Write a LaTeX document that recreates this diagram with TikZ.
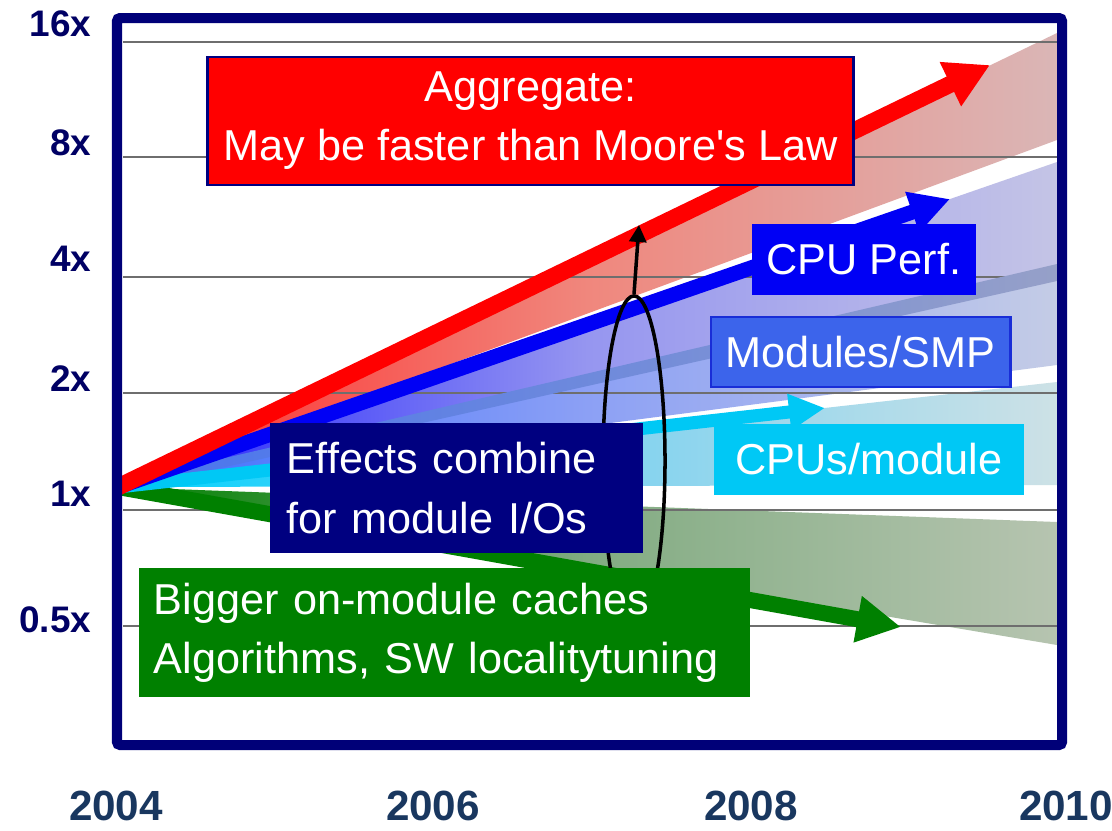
\documentclass[tikz,border=0pt]{standalone}
\usepackage{fontspec}
\setmainfont{Liberation Sans}
\usetikzlibrary{arrows.meta,shapes.geometric}
\pgfdeclarelayer{bg}
\pgfsetlayers{bg,main}

\definecolor{framenavy}{RGB}{0,0,120}
\definecolor{axisnavy}{RGB}{0,0,100}
\definecolor{yearblue}{RGB}{25,55,95}
\definecolor{gridgray}{RGB}{110,110,110}
\definecolor{aggred}{RGB}{255,0,0}
\definecolor{cpublue}{RGB}{0,0,245}
\definecolor{smpblue}{RGB}{60,100,235}
\definecolor{smpedge}{RGB}{25,45,215}
\definecolor{modcyan}{RGB}{0,200,245}
\definecolor{effnavy}{RGB}{0,0,128}
\definecolor{cachegreen}{RGB}{0,128,0}
% band colours, left end, middle and right end
\definecolor{aggL}{RGB}{255,40,40}
\definecolor{aggM}{RGB}{240,135,125}
\definecolor{aggR}{RGB}{218,182,182}
\definecolor{cpuL}{RGB}{30,30,255}
\definecolor{cpuM}{RGB}{150,150,240}
\definecolor{cpuR}{RGB}{196,196,230}
\definecolor{smpL}{RGB}{60,110,255}
\definecolor{smpM}{RGB}{140,160,245}
\definecolor{smpR}{RGB}{196,204,230}
\definecolor{modL}{RGB}{0,210,255}
\definecolor{modM}{RGB}{125,210,240}
\definecolor{modR}{RGB}{205,225,230}
\definecolor{cacheL}{RGB}{0,128,0}
\definecolor{cacheM}{RGB}{130,172,130}
\definecolor{cacheR}{RGB}{182,196,176}
\definecolor{smpshaftL}{RGB}{70,115,240}
\definecolor{smpshaftR}{RGB}{150,160,200}

\tikzset{
  txt/.style={font=\fontsize{12.3}{16.8}\selectfont, text=white, inner sep=0pt},
  aggbox/.style={txt, fill=aggred, draw=effnavy, line width=0.8pt, minimum width=6.45cm, minimum height=1.28cm, align=center},
  cpubox/.style={txt, fill=cpublue, minimum width=2.24cm, minimum height=0.71cm},
  smpbox/.style={txt, fill=smpblue, draw=smpedge, line width=0.8pt, minimum width=2.99cm, minimum height=0.70cm},
  modbox/.style={txt, fill=modcyan, minimum width=3.10cm, minimum height=0.71cm},
  effbox/.style={txt, fill=effnavy, minimum width=3.73cm, minimum height=1.30cm, text width=3.39cm, align=left},
  cachebox/.style={txt, fill=cachegreen, minimum width=6.11cm, minimum height=1.29cm, text width=5.81cm, align=left},
  axislbl/.style={anchor=east, inner sep=0pt, text=axisnavy, font=\fontsize{10.5}{12}\selectfont\bfseries},
  yearlbl/.style={inner sep=0pt, text=yearblue, font=\fontsize{12}{14}\selectfont\bfseries},
  band/.style n args={3}{left color=#1, right color=#3, middle color=#2},
  aggarrow/.style={aggred, line width=0.17cm, -{Triangle[length=0.44cm, width=0.46cm]}},
  cpuarrow/.style={cpublue, line width=0.15cm, -{Triangle[length=0.40cm, width=0.40cm]}},
  modarrow/.style={modcyan, line width=0.13cm, -{Triangle[length=0.36cm, width=0.34cm]}},
  cachearrow/.style={cachegreen, line width=0.16cm, -{Triangle[length=0.44cm, width=0.44cm]}},
  looparrow/.style={black, line width=1pt, -{Triangle[length=0.17cm, width=0.17cm]}}
}

\begin{document}
\begin{tikzpicture}[x=0.01cm, y=-0.01cm]
        \useasboundingbox (0,0) rectangle (1112,830);
        \node (agg) [aggbox] at (530.5,121) {Aggregate:\\May be faster than Moore\textquotesingle s Law};
        \node (cpu) [cpubox] at (864,259.5) {CPU Perf.};
        \node (smp) [smpbox] at (860.5,352) {Modules/SMP};
        \node (mod) [modbox] at (869,459.5) {CPUs/module};
        \node (eff) [effbox] at (456.5,488) {Effects combine\\for module I/Os};
        \node (cache) [cachebox] at (444.5,632.5) {Bigger on-module caches\\Algorithms, SW localitytuning};
        \node (l16) [axislbl] at (92,24) {16x};
        \node (l8) [axislbl] at (92,143) {8x};
        \node (l4) [axislbl] at (92,259) {4x};
        \node (l2) [axislbl] at (92,379) {2x};
        \node (l1) [axislbl] at (92,494) {1x};
        \node (l05) [axislbl] at (92,620) {0.5x};
        \node (y2004) [yearlbl] at (116,806) {2004};
        \node (y2006) [yearlbl] at (433,806) {2006};
        \node (y2008) [yearlbl] at (751,806) {2008};
        \node (y2010) [yearlbl] at (1066,806) {2010};
        \draw [framenavy, line width=0.1cm, rounded corners=0.03cm] (117,18) rectangle (1062,745);
        \coordinate (o) at (118,487);
        \coordinate (aggtip) at (990,65);
        \coordinate (cputip) at (950,199);
        \coordinate (modtip) at (825,408);
        \coordinate (cachetip) at (901,627);
        \coordinate (looptip) at (639,225);
        \begin{pgfonlayer}{bg}
                \fill [white] (0,0) rectangle (1112,830);
                \shade [band={aggL}{aggM}{aggR}] (o) -- (1057,33) -- (1057,140) -- cycle;
                \shade [band={cpuL}{cpuM}{cpuR}] (o) -- (1057,162) -- (1057,272) -- cycle;
                \shade [band={smpL}{smpM}{smpR}] (o) -- (1057,272) -- (1057,365) -- cycle;
                \shade [band={modL}{modM}{modR}] (o) -- (1057,382) -- (1057,485) -- cycle;
                \shade [band={cacheL}{cacheM}{cacheR}] (o) -- (1057,522) -- (1057,645) -- cycle;
                \foreach \gy in {42,157,277,393,510,626}
                        \draw [gridgray, line width=0.4pt] (123,\gy) -- (1057,\gy);
                \shade [left color=smpshaftL, right color=smpshaftR] (118,483) -- (1057,264) -- (1057,281) -- (118,491) -- cycle;
                \draw (o) edge [cachearrow] (cachetip);
                \draw (o) edge [modarrow] (modtip);
                \draw (o) edge [cpuarrow] (cputip);
                \draw (o) edge [aggarrow] (aggtip);
                \node (loop) [draw, ellipse, line width=1pt, minimum width=0.62cm, minimum height=3.3cm, inner sep=0pt] at (634,461) {};
                \draw (loop.north) edge [looparrow] (looptip);
        \end{pgfonlayer}
\end{tikzpicture}
\end{document}
